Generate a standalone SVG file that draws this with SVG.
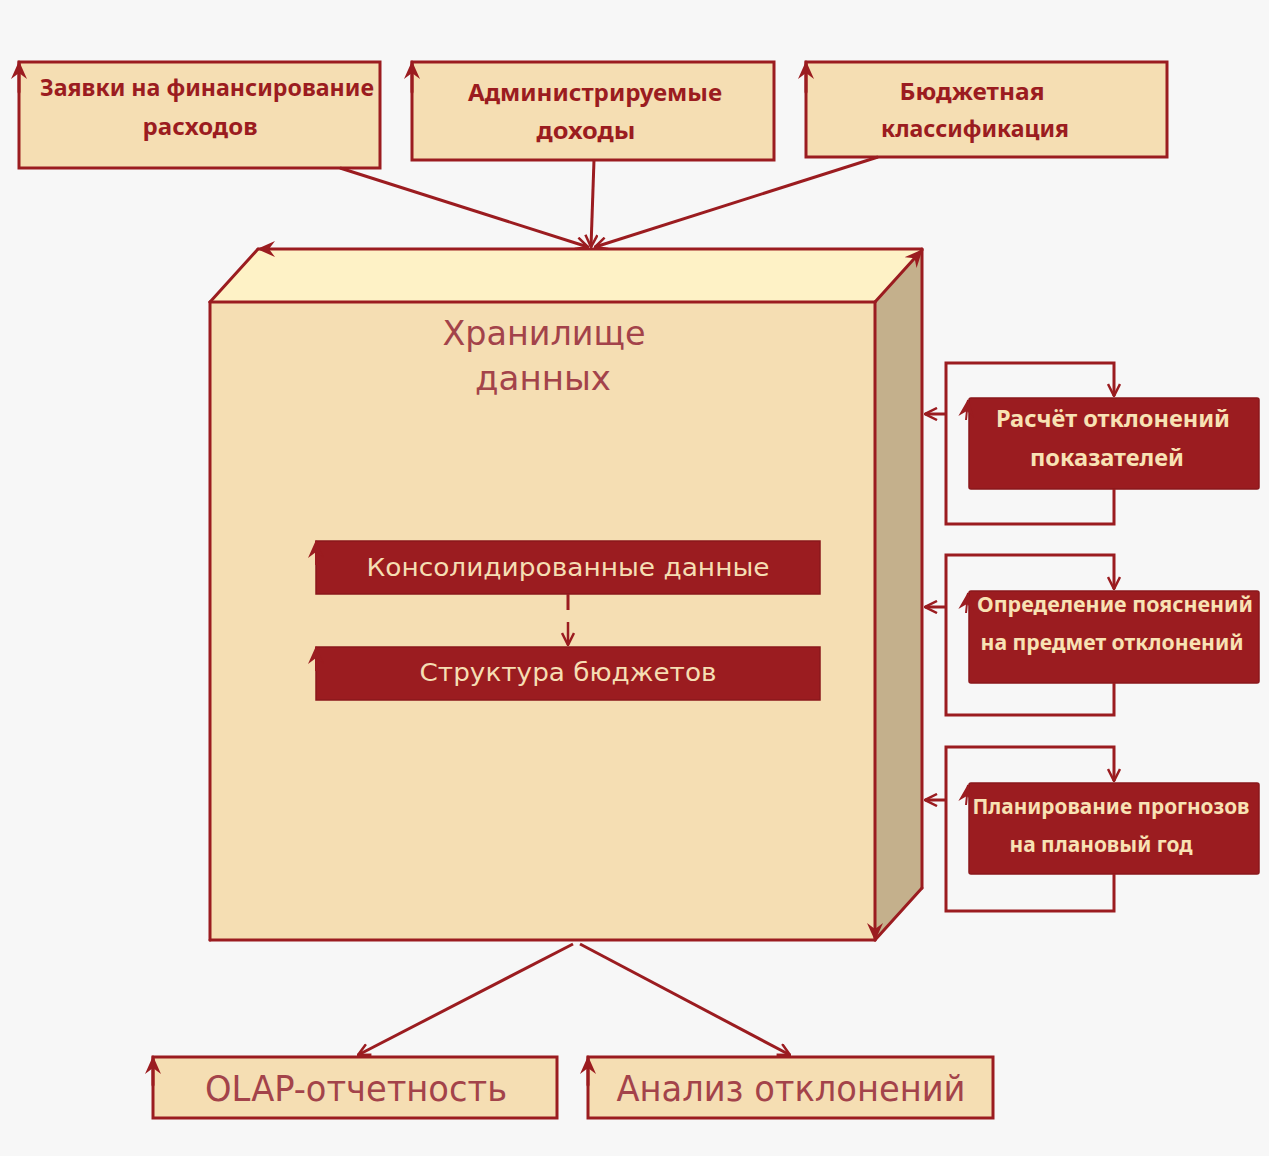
<svg xmlns="http://www.w3.org/2000/svg" width="1269" height="1156" viewBox="0 0 1269 1156">
  <style>
    .frame { fill: #f5deb3; stroke: #9b1c20; stroke-width: 3; }
    .dark { fill: #9b1c20; stroke: #8a171b; stroke-width: 1.5; }
    .edge { fill: none; stroke: #9b1c20; stroke-width: 3; stroke-linecap: round; }
    .link { fill: none; stroke: #9b1c20; stroke-width: 3; }
    .t-bold { font-family: "Noto Sans", "Open Sans", sans-serif; font-weight: bold; fill: #9b1c20; text-anchor: middle; }
    .t-light { font-family: "Noto Sans", "Open Sans", sans-serif; font-weight: bold; fill: #f8e2b4; text-anchor: middle; }
    .t-thin { font-family: "DejaVu Sans", sans-serif; fill: #f5deb3; text-anchor: middle; font-size: 24px; }
    .t-title { font-family: "DejaVu Sans", sans-serif; fill: #a3434a; text-anchor: middle; font-size: 33px; }
    .t-out { font-family: "DejaVu Sans Condensed", "DejaVu Sans", sans-serif; font-stretch: condensed; fill: #a3434a; text-anchor: middle; font-size: 35px; }
  </style>
  <defs>
    <marker id="open" viewBox="0 0 14 14" refX="13" refY="7" markerWidth="14" markerHeight="14" markerUnits="userSpaceOnUse" orient="auto">
      <path d="M1,1 L13,7 L1,13" fill="none" stroke="#9b1c20" stroke-width="2.5"/>
    </marker>
    <marker id="barb" viewBox="0 0 18 16" refX="17" refY="8" markerWidth="18" markerHeight="16" markerUnits="userSpaceOnUse" orient="auto">
      <path d="M0,0 L18,8 L0,16 L6,8 z" fill="#9b1c20"/>
    </marker>
  </defs>

  <rect width="1269" height="1156" fill="#f7f7f7"/>

  <!-- source boxes -->
  <g id="node-requests">
    <rect class="frame" x="19" y="62" width="361" height="106"/>
    <line class="edge" x1="19" y1="92" x2="19" y2="62" marker-end="url(#barb)"/>
    <text class="t-bold" x="207" y="96" font-size="23" textLength="334" lengthAdjust="spacingAndGlyphs">Заявки на финансирование</text>
    <text class="t-bold" x="200" y="135" font-size="23" textLength="115" lengthAdjust="spacingAndGlyphs">расходов</text>
  </g>
  <g id="node-revenues">
    <rect class="frame" x="412" y="62" width="362" height="98"/>
    <line class="edge" x1="412" y1="92" x2="412" y2="62" marker-end="url(#barb)"/>
    <text class="t-bold" x="595" y="101" font-size="23" textLength="254" lengthAdjust="spacingAndGlyphs">Администрируемые</text>
    <text class="t-bold" x="586" y="139" font-size="23" textLength="99" lengthAdjust="spacingAndGlyphs">доходы</text>
  </g>
  <g id="node-classification">
    <rect class="frame" x="806" y="62" width="361" height="95"/>
    <line class="edge" x1="806" y1="92" x2="806" y2="62" marker-end="url(#barb)"/>
    <text class="t-bold" x="972" y="100" font-size="23" textLength="145" lengthAdjust="spacingAndGlyphs">Бюджетная</text>
    <text class="t-bold" x="975" y="137" font-size="23" textLength="188" lengthAdjust="spacingAndGlyphs">классификация</text>
  </g>

  <!-- data warehouse cube -->
  <g id="node-warehouse">
    <polygon points="210,302 258,249 922,249 875,302" fill="#fef2c6"/>
    <rect x="210" y="302" width="665" height="638" fill="#f5deb3"/>
    <polygon points="875,302 922,249 922,888 875,940" fill="#c4b08c"/>
    <line class="edge" x1="210" y1="302" x2="258" y2="249"/>
    <line class="edge" x1="922" y1="249" x2="258" y2="249" marker-end="url(#barb)"/>
    <line class="edge" x1="875" y1="302" x2="922" y2="250" marker-end="url(#barb)"/>
    <line class="edge" x1="210" y1="302" x2="875" y2="302"/>
    <line class="edge" x1="210" y1="302" x2="210" y2="940"/>
    <line class="edge" x1="210" y1="940" x2="875" y2="940"/>
    <line class="edge" x1="922" y1="249" x2="922" y2="888"/>
    <line class="edge" x1="922" y1="888" x2="875" y2="940"/>
    <line class="edge" x1="875" y1="302" x2="875" y2="940" marker-end="url(#barb)"/>
    <text class="t-title" x="544" y="345" textLength="203" lengthAdjust="spacingAndGlyphs">Хранилище</text>
    <text class="t-title" x="543" y="390" textLength="136" lengthAdjust="spacingAndGlyphs">данных</text>
  </g>

  <g id="node-consolidated">
    <rect class="dark" x="316" y="541" width="504" height="53"/>
    <line x1="316" y1="565" x2="316" y2="541" stroke="#9b1c20" stroke-width="2" marker-end="url(#barb)"/>
    <text class="t-thin" x="568" y="576" textLength="403" lengthAdjust="spacingAndGlyphs">Консолидированные данные</text>
  </g>
  <g id="node-structure">
    <rect class="dark" x="316" y="647" width="504" height="53"/>
    <line x1="316" y1="671" x2="316" y2="647" stroke="#9b1c20" stroke-width="2" marker-end="url(#barb)"/>
    <text class="t-thin" x="568" y="681" textLength="297" lengthAdjust="spacingAndGlyphs">Структура бюджетов</text>
  </g>

  <!-- processing blocks on the right -->
  <g id="node-deviation-calc">
    <rect class="dark" x="969" y="398" width="290" height="91" rx="2"/>
    <line x1="966" y1="420" x2="968" y2="400" stroke="#9b1c20" stroke-width="2" marker-end="url(#barb)"/>
    <text class="t-light" x="1113" y="427" font-size="23" textLength="234" lengthAdjust="spacingAndGlyphs">Расчёт отклонений</text>
    <text class="t-light" x="1107" y="466" font-size="23" textLength="154" lengthAdjust="spacingAndGlyphs">показателей</text>
  </g>
  <g id="node-explanations">
    <rect class="dark" x="969" y="591" width="290" height="92" rx="2"/>
    <line x1="966" y1="613" x2="968" y2="593" stroke="#9b1c20" stroke-width="2" marker-end="url(#barb)"/>
    <text class="t-light" x="1115" y="612" font-size="21" textLength="276" lengthAdjust="spacingAndGlyphs">Определение пояснений</text>
    <text class="t-light" x="1112" y="650" font-size="21" textLength="263" lengthAdjust="spacingAndGlyphs">на предмет отклонений</text>
  </g>
  <g id="node-forecast">
    <rect class="dark" x="969" y="783" width="290" height="91" rx="2"/>
    <line x1="966" y1="805" x2="968" y2="785" stroke="#9b1c20" stroke-width="2" marker-end="url(#barb)"/>
    <text class="t-light" x="1111" y="814" font-size="21" textLength="277" lengthAdjust="spacingAndGlyphs">Планирование прогнозов</text>
    <text class="t-light" x="1101" y="852" font-size="21" textLength="183" lengthAdjust="spacingAndGlyphs">на плановый год</text>
  </g>

  <!-- outputs -->
  <g id="node-olap">
    <rect class="frame" x="153" y="1057" width="404" height="61"/>
    <line class="edge" x1="153" y1="1085" x2="153" y2="1057" marker-end="url(#barb)"/>
    <text class="t-out" x="356" y="1101" textLength="302" lengthAdjust="spacingAndGlyphs">OLAP-отчетность</text>
  </g>
  <g id="node-analysis">
    <rect class="frame" x="588" y="1057" width="405" height="61"/>
    <line class="edge" x1="588" y1="1085" x2="588" y2="1057" marker-end="url(#barb)"/>
    <text class="t-out" x="791" y="1101" textLength="349" lengthAdjust="spacingAndGlyphs">Анализ отклонений</text>
  </g>

  <!-- connectors -->
  <g id="connectors">
    <line class="link" x1="340" y1="168" x2="588" y2="247" marker-end="url(#open)"/>
    <line class="link" x1="594" y1="160" x2="591" y2="247" marker-end="url(#open)"/>
    <line class="link" x1="878" y1="157" x2="595" y2="247" marker-end="url(#open)"/>

    <line x1="568" y1="594" x2="568" y2="610" stroke="#9b1c20" stroke-width="3"/>
    <line x1="568" y1="622" x2="568" y2="645" stroke="#9b1c20" stroke-width="2.5" marker-end="url(#open)"/>

    <path class="link" d="M1114,489 V524 H946 V363 H1114 V396" marker-end="url(#open)"/>
    <line class="link" x1="946" y1="414" x2="925" y2="414" marker-end="url(#open)"/>
    <path class="link" d="M1114,683 V715 H946 V555 H1114 V589" marker-end="url(#open)"/>
    <line class="link" x1="946" y1="607" x2="925" y2="607" marker-end="url(#open)"/>
    <path class="link" d="M1114,874 V911 H946 V747 H1114 V781" marker-end="url(#open)"/>
    <line class="link" x1="946" y1="800" x2="925" y2="800" marker-end="url(#open)"/>

    <line class="link" x1="573" y1="944" x2="358" y2="1055" marker-end="url(#open)"/>
    <line class="link" x1="580" y1="944" x2="790" y2="1055" marker-end="url(#open)"/>
  </g>
</svg>
